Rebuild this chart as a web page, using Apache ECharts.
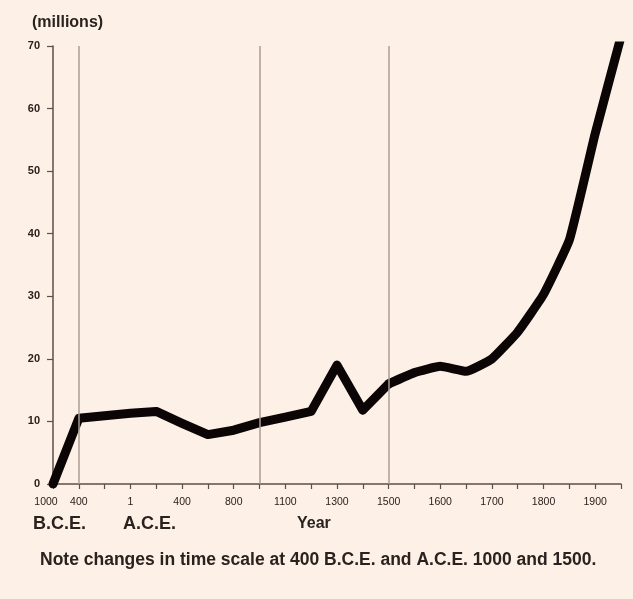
<!DOCTYPE html>
<html>
<head>
<meta charset="utf-8">
<script src="https://cdn.jsdelivr.net/npm/echarts@6/dist/echarts.min.js"></script>
<style>
  html, body { margin: 0; padding: 0; background: #fdf0e6; }
  #chart { width: 633px; height: 599px; }
</style>
</head>
<body>
<div id="chart"></div>
<script>
// Time points (the scale changes at 400 B.C.E., A.C.E. 1000 and 1500)
const years = ['1000 B.C.E.', '400 B.C.E.', '200 B.C.E.', '1 A.C.E.', '200', '400', '600', '800', '1000',
  '1100', '1200', '1300', '1400', '1500', '1550', '1600', '1650', '1700', '1750', '1800', '1850', '1900', '1950'];
const tickLabels = ['1000', '400', '', '1', '', '400', '', '800', '', '1100', '', '1300', '', '1500', '',
  '1600', '', '1700', '', '1800', '', '1900', ''];
// Population, millions
const population = [0, 10.5, 10.9, 11.3, 11.6, 9.7, 7.9, 8.6, 9.8, 10.7, 11.6, 19.0, 11.8, 16.0, 17.8,
  18.8, 18.0, 20.0, 24.3, 30.3, 39.0, 56.0, 71.5];
const scaleBreaks = ['400 B.C.E.', '1000', '1500'];
const smoothFrom = '1500';
const yTicks = { min: 0, max: 70, interval: 10 };

const splitIdx = years.indexOf(smoothFrom);
const earlyPart = population.map((v, i) => i <= splitIdx ? v : null);
const latePart = population.map((v, i) => i >= splitIdx ? v : null);

const chart = echarts.init(document.getElementById('chart'));
const font = 'Liberation Sans, Arial, sans-serif';
const textColor = '#2a221f';
const axisColor = '#5e4e49';
const lineStyle = { color: '#0b0505', width: 9, join: 'round', cap: 'round' };

chart.setOption({
  backgroundColor: '#fdf0e6',
  animation: false,
  grid: { left: 53, right: 12, top: 46, bottom: 115 },
  title: {
    text: '(millions)', left: 32, top: 15, padding: 0,
    textStyle: { fontFamily: font, fontSize: 16, fontWeight: 'bold', color: textColor }
  },
  xAxis: {
    type: 'category', data: years, boundaryGap: false,
    axisLine: { lineStyle: { color: axisColor, width: 1.5 } },
    axisTick: { show: true, interval: 0, length: 5, lineStyle: { color: axisColor, width: 1.2 } },
    axisLabel: {
      interval: 0, margin: 13, fontFamily: font, fontSize: 10.5, color: textColor,
      formatter: (v, i) => i === 0 ? '{a|' + tickLabels[i] + '}' : tickLabels[i],
      rich: { a: { fontFamily: font, fontSize: 10.5, color: textColor, padding: [0, 14, 0, 0] } }
    },
    splitLine: { show: false }
  },
  yAxis: {
    type: 'value', min: yTicks.min, max: yTicks.max, interval: yTicks.interval,
    axisLine: { show: true, lineStyle: { color: axisColor, width: 1.5 } },
    axisTick: { show: true, length: 6, lineStyle: { color: axisColor, width: 1.2 } },
    axisLabel: { margin: 13, fontFamily: font, fontSize: 11, fontWeight: 'bold', color: textColor },
    splitLine: { show: false }
  },
  series: [
    {
      type: 'line', data: [], z: 1,
      markLine: {
        silent: true, symbol: 'none', label: { show: false },
        lineStyle: { color: '#ab9c95', width: 1.5, type: 'solid' },
        data: scaleBreaks.map(v => ({ xAxis: v }))
      }
    },
    {
      type: 'line', data: earlyPart, z: 3, connectNulls: false,
      symbol: 'none', smooth: false, lineStyle: lineStyle
    },
    {
      type: 'line', data: latePart, z: 3, connectNulls: false,
      symbol: 'none', smooth: 0.12, lineStyle: lineStyle
    }
  ],
  graphic: [
    { type: 'text', left: 33, top: 515, style: { text: 'B.C.E.', font: 'bold 18px ' + font, fill: textColor } },
    { type: 'text', left: 123, top: 515, style: { text: 'A.C.E.', font: 'bold 18px ' + font, fill: textColor } },
    { type: 'text', left: 297, top: 516, style: { text: 'Year', font: 'bold 16px ' + font, fill: textColor } },
    { type: 'text', left: 40, top: 551, style: { text: 'Note changes in time scale at 400 B.C.E. and A.C.E. 1000 and 1500.', font: 'bold 17.5px ' + font, fill: textColor } }
  ]
});
</script>
</body>
</html>
